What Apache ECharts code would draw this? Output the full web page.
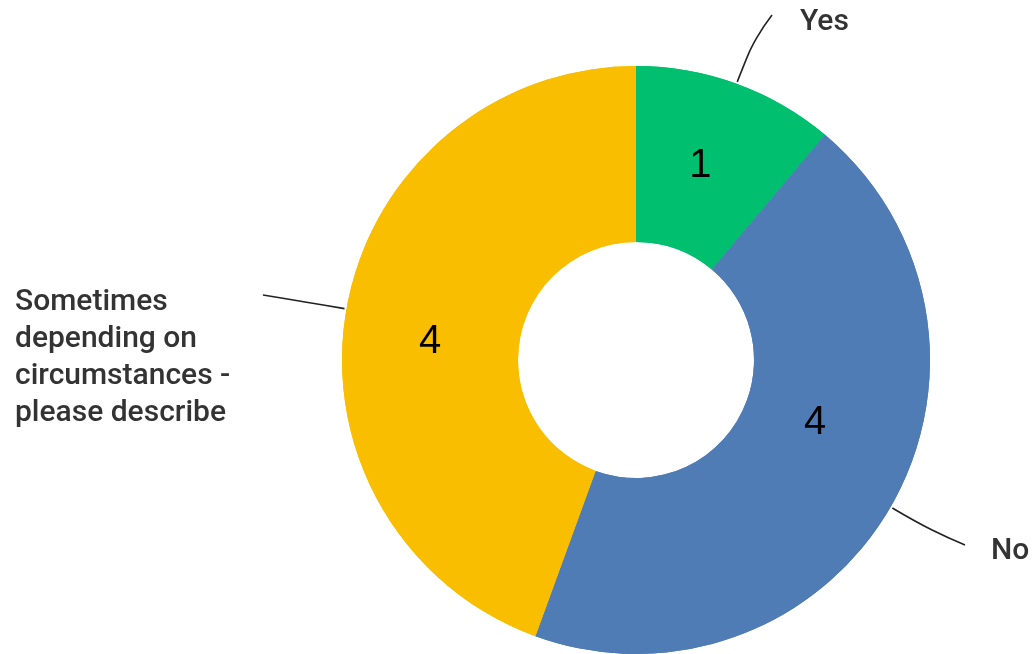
<!DOCTYPE html>
<html>
<head>
<meta charset="utf-8">
<script src="https://cdn.jsdelivr.net/npm/echarts@6/dist/echarts.min.js"></script>
<style>
  html, body { margin: 0; padding: 0; background: #fff; }
  #chart { width: 1033px; height: 654px; }
</style>
</head>
<body>
<div id="chart"></div>
<script>
// Survey answers and their counts
const categories = ['Yes', 'No', 'Sometimes\ndepending on\ncircumstances -\nplease describe'];
const counts = [1, 4, 4];
const colors = ['#00BF6F', '#507CB6', '#F9BE00'];

const chart = echarts.init(document.getElementById('chart'));

const data = categories.map((name, i) => ({
  name: name,
  value: counts[i],
  itemStyle: { color: colors[i] }
}));

const center = [636, 360];
const radius = [118, 294];

// Where the category names sit around the ring (left edge, vertical middle)
const namePlacement = [
  { x: 800, y: 22 },
  { x: 991, y: 551 },
  { x: 15, y: 358 }
];
// Leader line: where it stops before the name, and a bend point between
const leaderEnd = [
  { dx: -28, dy: -7 },
  { dx: -26, dy: -6 },
  { dx: 248, dy: -63 }
];
const leaderBend = [
  { dx: -45, dy: 15 },
  { dx: -60, dy: -20 },
  { dx: 290, dy: -56 }
];
// Small nudges for the count labels inside the ring
const countNudge = [
  { dx: -7, dy: 2 },
  { dx: -2, dy: -42 },
  { dx: 0, dy: 18 }
];

// Point on the outer rim at the middle of each slice
const total = counts.reduce((a, b) => a + b, 0);
function rimPoint(i) {
  let before = 0;
  for (let k = 0; k < i; k++) before += counts[k];
  const mid = (before + counts[i] / 2) / total * Math.PI * 2; // clockwise from top
  const r = radius[1] + 2;
  return [center[0] + r * Math.sin(mid), center[1] - r * Math.cos(mid)];
}

chart.setOption({
  animation: false,
  backgroundColor: '#ffffff',
  series: [
    {
      type: 'pie',
      center: center,
      radius: radius,
      startAngle: 90,
      clockwise: true,
      data: data,
      silent: true,
      itemStyle: { borderWidth: 0 },
      label: {
        show: true,
        position: 'outside',
        formatter: '{b}',
        fontFamily: 'Roboto',
        fontSize: 30,
        fontWeight: 500,
        lineHeight: 37,
        color: '#333333',
        overflow: 'none'
      },
      labelLine: {
        show: true,
        length: 30,
        length2: 30,
        smooth: 0.5,
        lineStyle: { color: '#222222', width: 1.6 }
      },
      labelLayout: function (p) {
        const i = p.dataIndex;
        const s = namePlacement[i];
        const e = leaderEnd[i], b = leaderBend[i];
        return {
          x: s.x, y: s.y, align: 'left', verticalAlign: 'middle',
          hideOverlap: false, moveOverlap: false,
          labelLinePoints: [
            rimPoint(i),
            [s.x + b.dx, s.y + b.dy],
            [s.x + e.dx, s.y + e.dy]
          ]
        };
      }
    },
    {
      type: 'pie',
      center: center,
      radius: radius,
      startAngle: 90,
      clockwise: true,
      silent: true,
      data: data,
      itemStyle: { color: 'rgba(0,0,0,0)' },
      label: {
        show: true,
        position: 'inside',
        formatter: '{c}',
        fontFamily: 'Liberation Sans',
        fontSize: 40,
        color: '#000000'
      },
      labelLine: { show: false },
      labelLayout: function (p) {
        const n = countNudge[p.dataIndex];
        return { dx: n.dx, dy: n.dy };
      }
    }
  ]
});
</script>
</body>
</html>
